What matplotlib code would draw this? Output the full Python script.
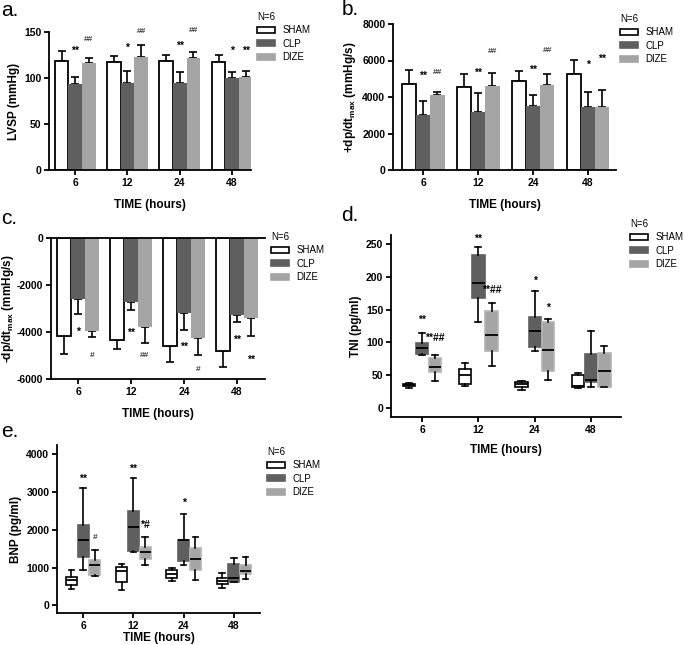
import numpy as np
import matplotlib
matplotlib.use("Agg")
import matplotlib.pyplot as plt
from matplotlib.patches import Patch

plt.rcParams['font.family'] = ['Liberation Sans', 'DejaVu Sans']
plt.rcParams['mathtext.fontset'] = 'custom'
plt.rcParams['mathtext.rm'] = 'Liberation Sans'
plt.rcParams['mathtext.bf'] = 'Liberation Sans:bold'
plt.rcParams['axes.unicode_minus'] = False

# --- data ---
times = ['6', '12', '24', '48']
groups = ['SHAM', 'CLP', 'DIZE']

# a. LVSP (mmHg), mean and error
lvsp_sham = [118, 117, 118, 117]
lvsp_clp = [94, 95, 95, 100]
lvsp_dize = [116, 123, 122, 101]
lvsp_sham_err = [11, 7, 7, 8]
lvsp_clp_err = [7, 13, 11, 7]
lvsp_dize_err = [6, 13, 6, 7]
lvsp_clp_marks = ['**', '*', '**', '*']
lvsp_dize_marks = ['##', '##', '##', '**']
lvsp_clp_mark_y = [130, 133, 135, 130]
lvsp_dize_mark_y = [142, 151, 152, 130]

# b. +dp/dt max (mmHg/s)
pdp_sham = [4690, 4550, 4900, 5260]
pdp_clp = [3000, 3180, 3510, 3450]
pdp_dize = [4130, 4600, 4640, 3450]
pdp_sham_err = [770, 700, 510, 790]
pdp_clp_err = [760, 1040, 600, 840]
pdp_dize_err = [150, 730, 600, 930]
pdp_clp_marks = ['**', '**', '**', '*']
pdp_dize_marks = ['##', '##', '##', '**']
pdp_clp_mark_y = [5170, 5350, 5500, 5770]
pdp_dize_mark_y = [5350, 6470, 6560, 6080]

# c. -dp/dt max (mmHg/s)
ndp_sham = [-4170, -4340, -4600, -4810]
ndp_clp = [-2580, -2730, -3180, -3270]
ndp_dize = [-3960, -3790, -4260, -3400]
ndp_sham_err = [750, 380, 690, 670]
ndp_clp_err = [650, 350, 720, 300]
ndp_dize_err = [250, 690, 720, 760]
ndp_clp_marks = ['*', '**', '**', '**']
ndp_dize_marks = ['#', '##', '#', '**']
ndp_clp_mark_y = [-4000, -4020, -4630, -4340]
ndp_dize_mark_y = [-5020, -5020, -5590, -5170]

# d. TNI (pg/ml): whisker low, q1, median, q3, whisker high
tni_sham = [(30.5, 33, 35, 36.6, 37.6), (34, 36, 50, 59, 68),
            (27, 31.5, 36, 39.6, 40.6), (31, 32, 33, 50, 53)]
tni_clp = [(80.8, 82.3, 91, 98.6, 114.8), (131, 168, 191, 233, 245),
           (87.4, 92.5, 117, 138, 178), (31.5, 39, 43, 82.3, 117.4)]
tni_dize = [(41.7, 54.9, 63, 75.7, 81.3), (64, 86.4, 112, 148, 160.6),
            (43, 57, 88, 130.6, 135), (31.5, 31.5, 56, 83.3, 94.5)]
tni_clp_marks = ['**', '**', '*', '']
tni_dize_marks = ['**##', '**##', '*', '']
tni_clp_mark_y = [134, 258, 194, 0]
tni_dize_mark_y = [106, 180, 153, 0]

# e. BNP (pg/ml)
bnp_sham = [(425, 549, 664, 752, 929), (398, 628, 903, 1018, 1106),
            (646, 726, 823, 929, 991), (469, 575, 655, 726, 858)]
bnp_clp = [(947, 1292, 1726, 2124, 3115), (1416, 1442, 2080, 2504, 3381),
           (1080, 1168, 1735, 1743, 2407), (610, 610, 735, 1088, 1257)]
bnp_dize = [(788, 805, 1080, 1212, 1469), (1071, 1239, 1425, 1540, 1814),
            (664, 938, 1221, 1522, 1814), (699, 832, 920, 1062, 1283)]
bnp_clp_marks = ['**', '**', '*', '']
bnp_dize_marks = ['#', '*#', '', '']
bnp_clp_mark_y = [3345, 3611, 2716, 0]
bnp_dize_mark_y = [1796, 2124, 0, 0]

# --- styling ---
fills = ['white', '#5f5f5f', '#a5a5a5']
edges = ['black', '#5f5f5f', '#b5b5b5']
W, H = 685, 645
fig = plt.figure(figsize=(6.85, 6.45), dpi=100)


def px_axes(l, t, r, b):
    return fig.add_axes([l / W, 1 - b / H, (r - l) / W, (b - t) / H])


def style(ax, xlim, ylim, yticks, ylabel, labelpad):
    for s in ['top', 'right']:
        ax.spines[s].set_visible(False)
    for s in ['left', 'bottom']:
        ax.spines[s].set_linewidth(1.3)
    ax.set_xlim(*xlim)
    ax.set_ylim(*ylim)
    ax.set_xticks(np.arange(len(times)))
    ax.set_xticklabels(times)
    ax.set_yticks(yticks)
    ax.tick_params(width=1.3, length=3.5, labelsize=7.5, pad=2)
    for lbl in ax.get_xticklabels() + ax.get_yticklabels():
        lbl.set_fontweight('bold')
    ax.set_ylabel(ylabel, fontsize=8.5, fontweight='bold', labelpad=3)
    ax.set_xlabel('TIME (hours)', fontsize=8.5, fontweight='bold', labelpad=labelpad)


def add_legend(ax, x, y):
    handles = [Patch(facecolor=fills[i], edgecolor='black' if i == 0 else fills[i],
                     linewidth=1.2) for i in range(3)]
    ax.legend(handles, groups, title='N=6', loc='upper left',
              bbox_to_anchor=(x / W, 1 - y / H), bbox_transform=fig.transFigure,
              frameon=False, alignment='left', fontsize=7, title_fontsize=7,
              handlelength=1.8, handleheight=0.6, handletextpad=0.8,
              labelspacing=0.35, borderpad=0, borderaxespad=0)


def marks(ax, xs, labels, ys):
    for x, lab, y in zip(xs, labels, ys):
        if lab:
            col = '#444444' if lab.startswith('#') else 'black'
            size = 6 if lab.startswith('#') else 7.5
            ax.text(x, y, lab, ha='center', va='center', fontsize=size,
                    color=col, fontweight='bold')


def bar_panel(ax, means, errs):
    x = np.arange(len(times))
    w = 0.26
    for i in range(3):
        pos = x + (i - 1) * w
        m = np.array(means[i], dtype=float)
        e = np.array(errs[i], dtype=float)
        ax.bar(pos, m, w, color=fills[i], edgecolor='black' if i == 0 else fills[i],
               linewidth=1.3 if i == 0 else 0, zorder=2)
        z = np.zeros_like(e)
        yerr = [z, e] if m[0] > 0 else [e, z]
        ax.errorbar(pos, m, yerr=yerr, fmt='none', ecolor='black', elinewidth=1.2,
                    capsize=3, capthick=1.2, zorder=1)
    return x, w


def box_panel(ax, data):
    x = np.arange(len(times))
    off = 0.235
    for i in range(3):
        stats = [dict(whislo=d[0], q1=d[1], med=d[2], q3=d[3], whishi=d[4])
                 for d in data[i]]
        ax.bxp(stats, positions=x + (i - 1) * off, widths=0.22, showfliers=False,
               patch_artist=True,
               boxprops=dict(facecolor=fills[i], edgecolor=edges[i], linewidth=1.2),
               medianprops=dict(color='black', linewidth=1.3),
               whiskerprops=dict(color='black', linewidth=1.2),
               capprops=dict(color='black', linewidth=1.2))
    return x, off


# a.
ax_a = px_axes(49, 32, 251, 170)
x, w = bar_panel(ax_a, [lvsp_sham, lvsp_clp, lvsp_dize],
                 [lvsp_sham_err, lvsp_clp_err, lvsp_dize_err])
marks(ax_a, x, lvsp_clp_marks, lvsp_clp_mark_y)
marks(ax_a, x + w, lvsp_dize_marks, lvsp_dize_mark_y)
style(ax_a, (-0.5, 3.36), (0, 150), [0, 50, 100, 150], 'LVSP (mmHg)', 8)
add_legend(ax_a, 257, 12)

# b.
ax_b = px_axes(393, 24, 616, 170)
x, w = bar_panel(ax_b, [pdp_sham, pdp_clp, pdp_dize],
                 [pdp_sham_err, pdp_clp_err, pdp_dize_err])
marks(ax_b, x, pdp_clp_marks, pdp_clp_mark_y)
marks(ax_b, x + w, pdp_dize_marks, pdp_dize_mark_y)
style(ax_b, (-0.55, 3.51), (0, 8000), [0, 2000, 4000, 6000, 8000],
      r'+dp/dt$_{\mathbf{max}}$ (mmHg/s)', 8)
add_legend(ax_b, 620, 14)

# c.
ax_c = px_axes(51, 238, 265, 379)
x, w = bar_panel(ax_c, [ndp_sham, ndp_clp, ndp_dize],
                 [ndp_sham_err, ndp_clp_err, ndp_dize_err])
marks(ax_c, x, ndp_clp_marks, ndp_clp_mark_y)
marks(ax_c, x + w, ndp_dize_marks, ndp_dize_mark_y)
style(ax_c, (-0.51, 3.53), (-6000, 0), [-6000, -4000, -2000, 0],
      r'-dp/dt$_{\mathbf{max}}$ (mmHg/s)', 8)
ax_c.yaxis.labelpad = 1
ax_c.spines['top'].set_visible(True)
ax_c.spines['top'].set_linewidth(1.3)
add_legend(ax_c, 271, 232)

# d.
ax_d = px_axes(391, 235, 621, 417)
x, off = box_panel(ax_d, [tni_sham, tni_clp, tni_dize])
marks(ax_d, x, tni_clp_marks, tni_clp_mark_y)
marks(ax_d, x + off, tni_dize_marks, tni_dize_mark_y)
style(ax_d, (-0.55, 3.53), (-14, 264), [0, 50, 100, 150, 200, 250], 'TNI (pg/ml)', 7)
add_legend(ax_d, 630, 219)

# e.
ax_e = px_axes(57, 445, 260, 613)
x, off = box_panel(ax_e, [bnp_sham, bnp_clp, bnp_dize])
marks(ax_e, x, bnp_clp_marks, bnp_clp_mark_y)
marks(ax_e, x + off, bnp_dize_marks, bnp_dize_mark_y)
style(ax_e, (-0.52, 3.52), (-203, 4248), [0, 1000, 2000, 3000, 4000], 'BNP (pg/ml)', 1)
add_legend(ax_e, 267, 447)

# panel letters
for lab, (px, py) in zip(['a.', 'b.', 'c.', 'd.', 'e.'],
                         [(1, 1), (342, 0), (1, 209), (341, 206), (1, 422)]):
    fig.text(px / W, 1 - py / H, lab, fontsize=15, va='top', ha='left')

fig.savefig('out.png', dpi=100)
